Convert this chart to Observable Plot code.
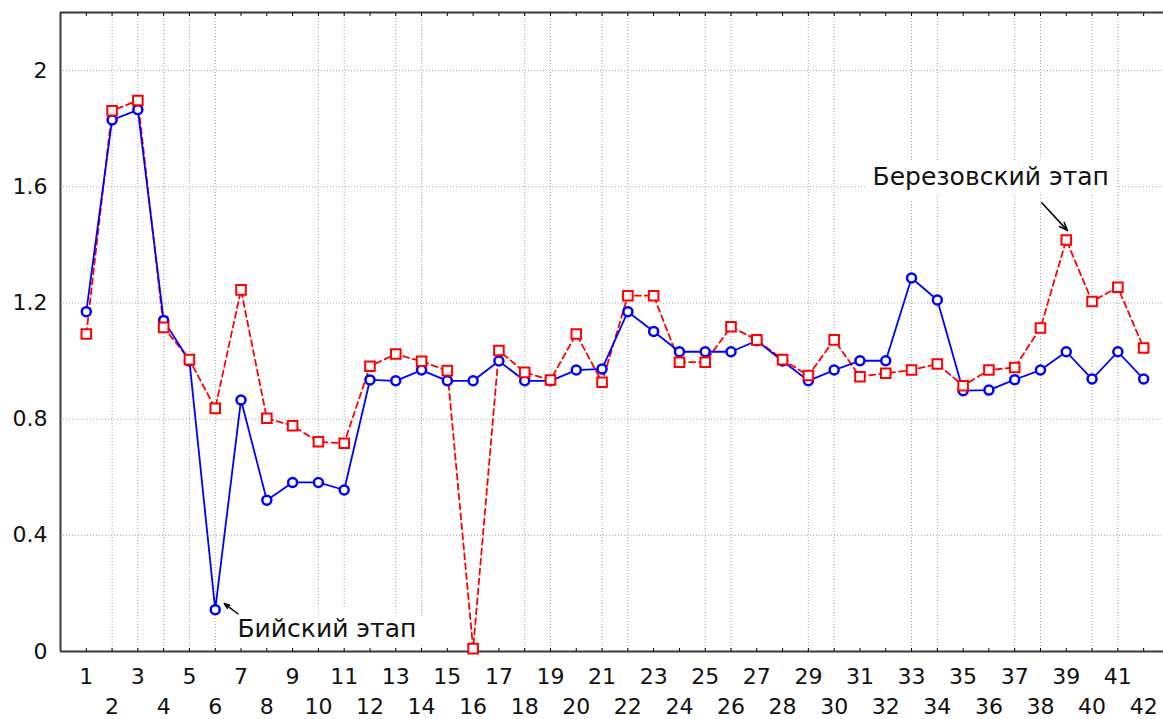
<!DOCTYPE html>
<html>
<head>
<meta charset="utf-8">
<script src="https://cdn.jsdelivr.net/npm/d3@7"></script>
<script src="https://cdn.jsdelivr.net/npm/@observablehq/plot@0.6"></script>
<style>
html, body { margin: 0; padding: 0; background: #fff; overflow: hidden; }
#chart svg { display: block; }
</style>
</head>
<body>
<div id="chart"></div>
<script>
// Categories (sample numbers)
const categories = [1,2,3,4,5,6,7,8,9,10,11,12,13,14,15,16,17,18,19,20,21,22,23,24,25,26,27,28,29,30,31,32,33,34,35,36,37,38,39,40,41,42];

// Blue series (circles, solid line)
const blueValues = [1.17, 1.83, 1.865, 1.14, 1.0, 0.144, 0.866, 0.521, 0.582, 0.582, 0.556, 0.935,
  0.932, 0.969, 0.932, 0.932, 1.0, 0.932, 0.932, 0.969, 0.973, 1.17, 1.102, 1.032, 1.032, 1.032,
  1.07, 1.0, 0.932, 0.969, 1.001, 1.001, 1.286, 1.21, 0.898, 0.9, 0.936, 0.969, 1.032, 0.938, 1.032, 0.938];

// Red series (squares, dashed line)
const redValues = [1.093, 1.862, 1.897, 1.116, 1.005, 0.837, 1.245, 0.803, 0.777, 0.722, 0.717, 0.982,
  1.024, 0.999, 0.967, 0.01, 1.036, 0.961, 0.935, 1.093, 0.927, 1.225, 1.225, 0.996, 0.996, 1.118,
  1.073, 1.005, 0.95, 1.073, 0.946, 0.958, 0.969, 0.99, 0.915, 0.969, 0.978, 1.114, 1.417, 1.205, 1.254, 1.045];

// Axis ticks
const yTicks = [0, 0.4, 0.8, 1.2, 1.6, 2];
const xTicksOdd = categories.filter(d => d % 2 === 1);
const xTicksEven = categories.filter(d => d % 2 === 0);
const xGridLines = [2,3,4,5,6,10,11,13,14,18,19,21,22,25,26,29,30,33,34,37,38,40,41];

// Annotations
const annoText = ["Бийский этап", "Березовский этап"];
const annoX = [6.86, 36.07];
const annoY = [0.078, 1.632];
const annoAnchor = ["start", "middle"];
const arrowX1 = [6.88, 38.05];
const arrowY1 = [0.13, 1.545];
const arrowX2 = [6.35, 39.05];
const arrowY2 = [0.165, 1.449];

const blue = categories.map((c, i) => ({x: c, y: blueValues[i]}));
const red = categories.map((c, i) => ({x: c, y: redValues[i]}));
const annos = annoText.map((t, i) => ({t, x: annoX[i], y: annoY[i], a: annoAnchor[i]}));
const arrows = arrowX1.map((d, i) => ({x1: d, y1: arrowY1[i], x2: arrowX2[i], y2: arrowY2[i]}));

const gridStyle = {stroke: "#a8a8a8", strokeOpacity: 1, strokeWidth: 1, strokeDasharray: "1,2"};
const annoStyle = {x: "x", y: "y", text: "t", lineAnchor: "middle",
  fill: "#111", stroke: "#fff", strokeWidth: 20, strokeLinejoin: "round", fontSize: 25};

const chart = Plot.plot({
  width: 1163,
  height: 719,
  marginLeft: 60,
  marginRight: 0,
  marginTop: 12,
  marginBottom: 68,
  x: {domain: [0, 42.77]},
  y: {domain: [0, 2.2]},
  style: {fontFamily: "'DejaVu Sans', sans-serif", fontSize: "22px", background: "#fff", color: "#111"},
  marks: [
    Plot.gridY(yTicks.filter(d => d > 0), gridStyle),
    Plot.gridX(xGridLines, gridStyle),
    // annotation text with white box-like halo
    Plot.text(annos.filter(d => d.a === "start"), {...annoStyle, textAnchor: "start"}),
    Plot.text(annos.filter(d => d.a === "middle"), {...annoStyle, textAnchor: "middle"}),
    // Frame
    Plot.ruleY([0, 2.2], {stroke: "#3a3a3a", strokeWidth: 2}),
    Plot.ruleX([0], {stroke: "#3a3a3a", strokeWidth: 2}),
    // small inward ticks on top and bottom
    Plot.axisX({anchor: "bottom", ticks: categories, tickSize: 3, tickFormat: () => "", dy: -3, stroke: "#000", label: null}),
    Plot.axisX({anchor: "top", ticks: categories, tickSize: 3, tickFormat: () => "", dy: 3, stroke: "#000", label: null}),
    // tick labels in two rows
    Plot.axisX({anchor: "bottom", ticks: xTicksOdd, tickSize: 0, tickPadding: 17, tickFormat: d => String(d), label: null, fontSize: 22}),
    Plot.axisX({anchor: "bottom", ticks: xTicksEven, tickSize: 0, tickPadding: 47, tickFormat: d => String(d), label: null, fontSize: 22}),
    Plot.axisY({ticks: yTicks, tickSize: 0, tickPadding: 13, tickFormat: d => String(d), label: null, fontSize: 22}),
    // series
    Plot.line(red, {x: "x", y: "y", stroke: "#ff0000", strokeWidth: 1.8, strokeDasharray: "6,4"}),
    Plot.line(blue, {x: "x", y: "y", stroke: "#0000ff", strokeWidth: 1.8}),
    Plot.dot(blue, {x: "x", y: "y", symbol: "circle", r: 4.5, stroke: "#0000ff", strokeWidth: 2.5, fill: "#fff"}),
    Plot.dot(red, {x: "x", y: "y", symbol: "square", r: 5.4, stroke: "#ff0000", strokeWidth: 2, fill: "#fff"}),
    // arrows
    Plot.arrow(arrows, {x1: "x1", y1: "y1", x2: "x2", y2: "y2", stroke: "#000", strokeWidth: 1.5, headLength: 9, headAngle: 40})
  ]
});
document.getElementById("chart").appendChild(chart);
</script>
</body>
</html>
